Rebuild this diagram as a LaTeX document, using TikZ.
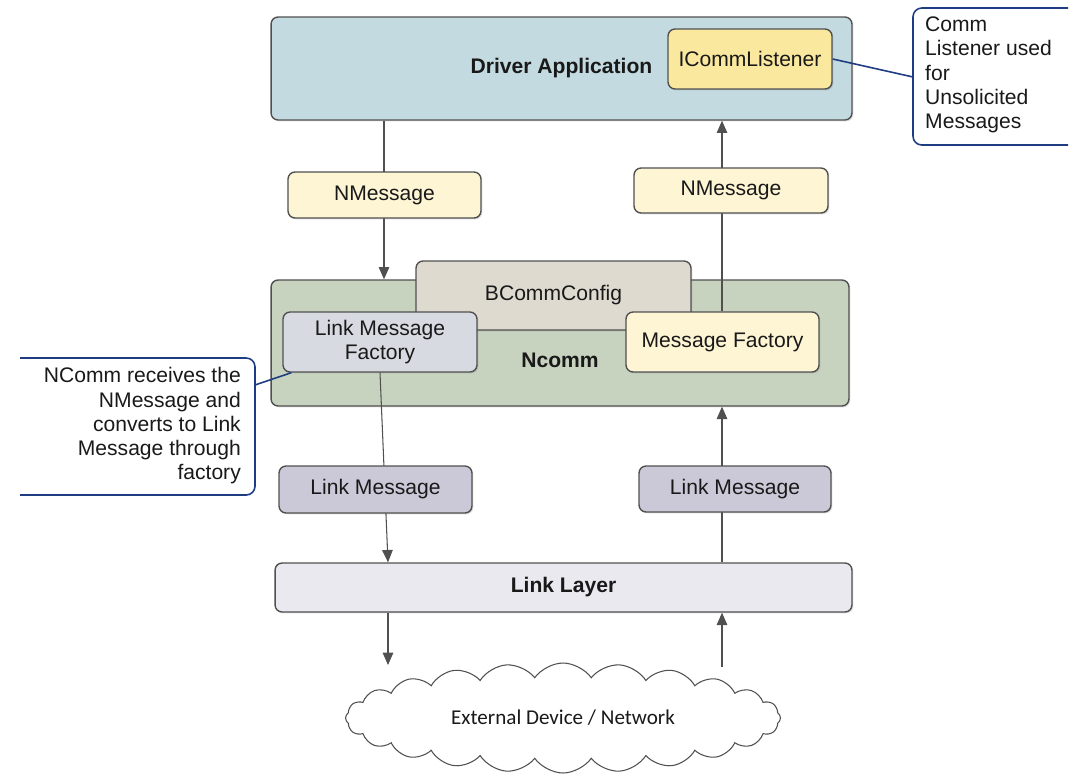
\documentclass[tikz,border=0pt]{standalone}
\usepackage{fontspec}
\setmainfont{Liberation Sans}
\newfontfamily\cloudfont{Carlito}
\usetikzlibrary{arrows.meta,positioning,calc,shapes.symbols,shadows}
\definecolor{drvblue}{RGB}{195,218,225}
\definecolor{lstyellow}{RGB}{250,232,158}
\definecolor{msgyellow}{RGB}{253,245,212}
\definecolor{ncgreen}{RGB}{199,211,191}
\definecolor{cfgbeige}{RGB}{222,218,208}
\definecolor{lmfgray}{RGB}{216,218,225}
\definecolor{lmpurple}{RGB}{203,201,215}
\definecolor{linkgray}{RGB}{233,233,239}
\definecolor{edgegray}{RGB}{80,80,80}
\definecolor{noteblue}{RGB}{30,60,130}

\begin{document}
\begin{tikzpicture}[x=0.02cm,y=-0.02cm,
  every node/.style={font=\fontsize{12}{13.8}\selectfont,align=center,text=black!90},
  box/.style={draw=edgegray,line width=0.8pt,rounded corners=4pt,
    drop shadow={shadow xshift=0.8pt,shadow yshift=-0.8pt,opacity=0.25}},
  arr/.style={draw=edgegray,line width=0.6pt,-{Triangle[length=7pt,width=6pt]}},
  note/.style={draw=noteblue,line width=0.9pt,rounded corners=5pt}]
\useasboundingbox (0,0) rectangle (1081,782);
% layers
\node[box,fill=drvblue,minimum width=11.62cm,minimum height=2.06cm] (drv) at (561.5,68.5) {\textbf{Driver Application}};
\node[box,fill=lstyellow,minimum width=3.28cm,minimum height=1.2cm] (icl) at (750,59) {ICommListener};
\node[box,fill=ncgreen,minimum width=11.56cm,minimum height=2.52cm] (ncomm) at (560,343) {};
\node[box,fill=cfgbeige,minimum width=5.5cm,minimum height=1.38cm] (bcc) at (553.5,295.5) {BCommConfig};
\node (ncommlbl) at (560,360) {\textbf{Ncomm}};
\node[box,fill=lmfgray,minimum width=3.88cm,minimum height=1.2cm] (lmf) at (380,342) {Link Message\\Factory};
\node[box,fill=msgyellow,minimum width=3.86cm,minimum height=1.2cm] (mf) at (722.5,342) {Message Factory};
\node[box,fill=linkgray,minimum width=11.54cm,minimum height=0.98cm] (link) at (563.5,587.5) {\textbf{Link Layer}};
\node[cloud,draw=edgegray,line width=0.6pt,fill=white,cloud puffs=24,cloud puff arc=110,aspect=4,
  minimum width=8.7cm,minimum height=2.2cm,font=\cloudfont\fontsize{12}{14}\selectfont] (net) at (563,718) {External Device / Network};
% message flow
\coordinate (xl) at (384,0);
\coordinate (xr) at (722,0);
\coordinate (netl) at (388,665);
\coordinate (netr) at (722,667);
\draw[arr] (drv.south -| xl) -- (ncomm.north -| xl);
\draw[arr] (mf.north -| xr) -- (drv.south -| xr);
\draw[arr] (lmf.south) -- (link.north -| 388,0);
\draw[arr] (link.north -| xr) -- (ncomm.south -| xr);
\draw[arr] (link.south -| netl) -- (netl);
\draw[arr] (netr) -- (link.south -| netr);
% messages on the wires
\node[box,fill=msgyellow,minimum width=3.86cm,minimum height=0.92cm] (nmL) at (384.5,195) {NMessage};
\node[box,fill=msgyellow,minimum width=3.88cm,minimum height=0.9cm] (nmR) at (731,190.5) {NMessage};
\node[box,fill=lmpurple,minimum width=3.86cm,minimum height=0.94cm] (lmL) at (375.5,489.5) {Link Message};
\node[box,fill=lmpurple,minimum width=3.84cm,minimum height=0.92cm] (lmR) at (735,489) {Link Message};
% callouts
\draw[note] (1068,8) -- (913,8) -- (913,145) -- (1068,145);
\coordinate (noteR) at (913,77);
\node[align=left,anchor=west] (noteRtxt) at (919,75) {Comm\\Listener used\\for\\Unsolicited\\Messages};
\draw[noteblue,line width=0.9pt] (icl.east) -- (noteR);
\draw[note] (20,358) -- (255,358) -- (255,495) -- (20,495);
\coordinate (noteL) at (255,385);
\node[align=right,anchor=east] (noteLtxt) at (247,426) {NComm receives the\\NMessage and\\converts to Link\\Message through\\factory};
\draw[noteblue,line width=0.9pt] (noteL) -- ([xshift=0.18cm]lmf.south west);
\end{tikzpicture}
\end{document}
